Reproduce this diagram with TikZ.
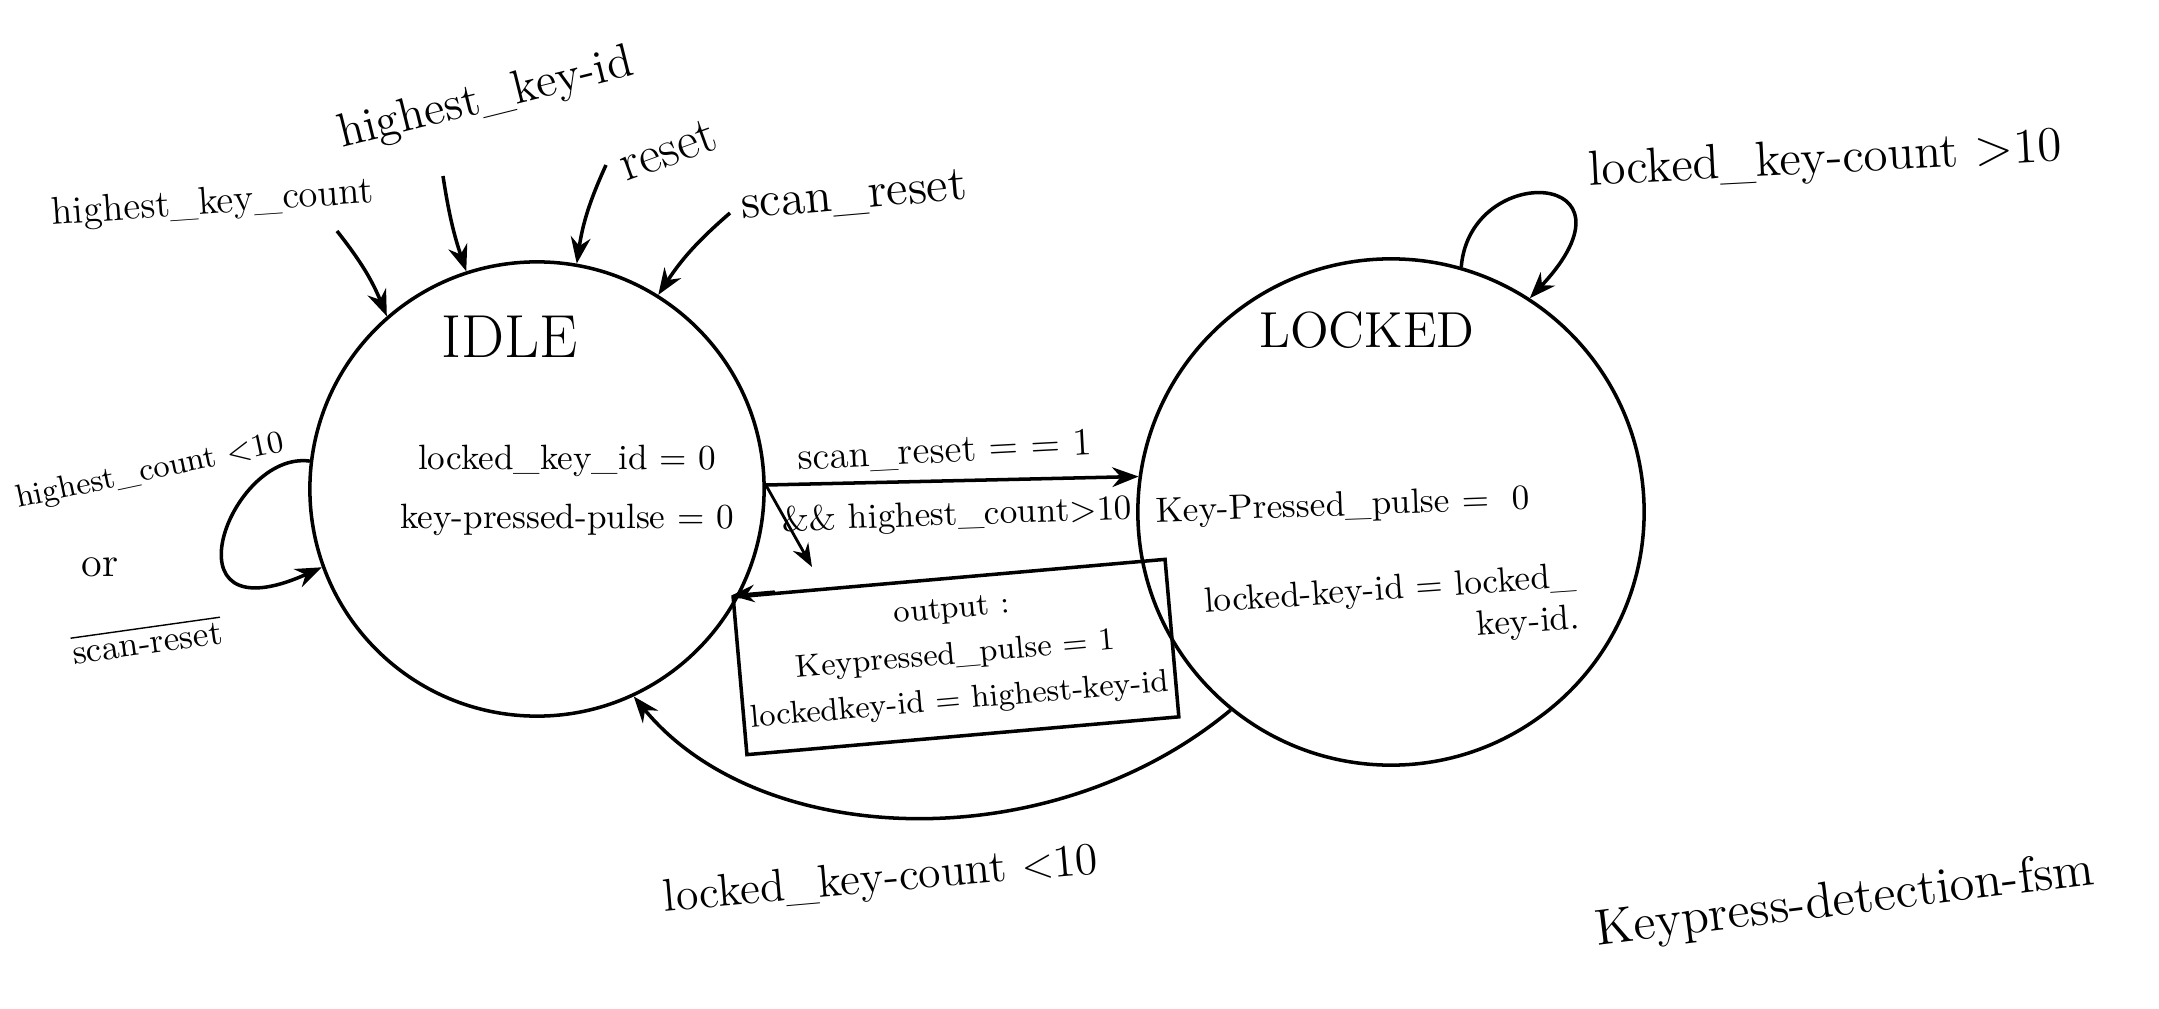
\documentclass[tikz,border=0pt]{standalone}
\usepackage{amsmath}
\usepackage{tikz}
\usetikzlibrary{arrows.meta,calc}

\tikzset{
    fsmstate/.style={circle, draw, line width=1pt, inner sep=0pt},
    lbl/.style={font=\normalsize, inner sep=1pt},
    flow/.style={->, line width=1pt},
}

\begin{document}
\begin{tikzpicture}[x=0.01cm, y=-0.01cm, >=Stealth]
    \useasboundingbox (0,0) rectangle (2159,1009);

    % States
    \node [fsmstate, minimum size=4.54cm] (idle) at (537,489) {};
    \node [fsmstate, minimum size=5.06cm] (locked) at (1391,512) {};
    \node [font=\LARGE] (idlename) at (510,337) {IDLE};
    \node [font=\Large] (lockedname) at (1367,330) {LOCKED};

    \node [lbl] (idleid) at (567,461) {locked\_key\_id = 0};
    \node [lbl] (idlepulse) at (567,520) {key-pressed-pulse = 0};
    \node [lbl, rotate=2] (lockpulse) at (1343,507) {Key-Pressed\_pulse =\ \ 0};
    \node [lbl, rotate=4, align=right] (lockid) at (1392,612) {locked-key-id = locked\_\\ key-id.};

    % Inputs of IDLE
    \node [lbl, font=\fontsize{11}{13}\selectfont, rotate=4] (hkc) at (213,204) {highest\_key\_count};
    \node [lbl, font=\fontsize{13.5}{16}\selectfont, rotate=14] (hkid) at (486,100) {highest\_key-id};
    \node [lbl, font=\fontsize{15}{18}\selectfont, rotate=20] (rst) at (668,150) {reset};
    \node [lbl, font=\fontsize{14}{17}\selectfont, rotate=5] (srst) at (854,197) {scan\_reset};
    \coordinate (hkcin) at (337,231);
    \coordinate (hkidin) at (443,176);
    \coordinate (rstin) at (606,165);
    \coordinate (srstin) at (730,213);
    \draw [flow] (hkcin) to[bend left=8] (idle.131);
    \draw [flow] (hkidin) to[bend right=5] (idle.108);
    \draw [flow] (rstin) to[bend right=8] (idle.80);
    \draw [flow] (srstin) to[bend right=8] (idle.58);

    % IDLE self loop
    \draw [flow] (idle.173) .. controls (230,450) and (160,640) .. (idle.200);
    \node [lbl, font=\small, rotate=12] (loopcond) at (150,472) {highest\_count $<$10};
    \node [lbl, font=\large] (loopor) at (100,567) {or};
    \node [lbl, rotate=8] (loopsrst) at (147,640) {$\overline{\text{scan-reset}}$};

    % IDLE -> LOCKED
    \draw [flow] (idle.1) -- (locked.172);
    \node [lbl, font=\fontsize{11}{13}\selectfont, rotate=3] (gocond) at (945,452) {scan\_reset = = 1};
    \node [lbl, rotate=2] (gocond2) at (957,516) {\&\& highest\_count$>$10};
    \coordinate (gobend) at (812,567);
    \draw [->, line width=0.8pt] (idle.1) -- (gobend);
    \node [draw, line width=1pt, rotate=5, align=center, font=\small, inner sep=2pt, minimum width=4.1cm, minimum height=1.58cm] (outbox) at (956,657)
        {output :\\[2pt] Keypressed\_pulse = 1\\[2pt] lockedkey-id = highest-key-id};
    \draw [->, line width=0.8pt] ($(outbox.north west)!0.1!(outbox.north east)$) -- (outbox.north west);

    % LOCKED self loop
    \draw [flow] (locked.74) .. controls (1470,160) and (1650,170) .. (locked.57);
    \node [lbl, font=\fontsize{14}{17}\selectfont, rotate=3] (staycond) at (1825,161) {locked\_key-count $>$10};

    % LOCKED -> IDLE
    \draw [flow] (locked.231) .. controls (1050,860) and (760,850) .. (idle.-65);
    \node [lbl, font=\fontsize{13}{16}\selectfont, rotate=5] (backcond) at (881,881) {locked\_key-count $<$10};

    \node [lbl, font=\Large, rotate=7] (title) at (1845,902) {Keypress-detection-fsm};
\end{tikzpicture}
\end{document}
